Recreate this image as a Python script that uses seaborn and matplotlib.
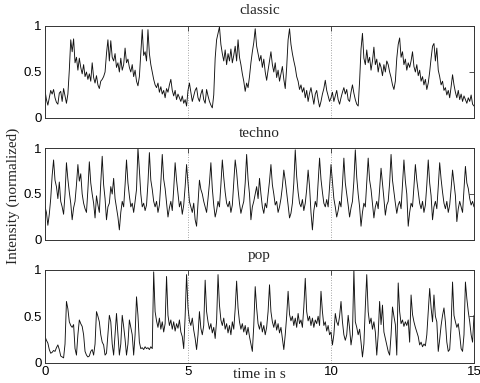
import numpy as np
import pandas as pd
import matplotlib
matplotlib.use("Agg")
import matplotlib.pyplot as plt
import seaborn as sns

# ---- data (normalized intensity sampled every 0.05 s, 0..15 s) ----
time_step = 0.05

classic = [
    0.30, 0.20, 0.14, 0.22, 0.30, 0.26, 0.31, 0.22, 0.17, 0.15, 0.27, 0.29, 0.18, 0.32, 0.24, 0.16, 0.26, 0.52, 0.85, 0.72,
    0.86, 0.60, 0.66, 0.52, 0.65, 0.55, 0.48, 0.58, 0.45, 0.50, 0.42, 0.48, 0.40, 0.60, 0.44, 0.38, 0.46, 0.36, 0.32, 0.40,
    0.42, 0.45, 0.50, 0.70, 0.85, 0.62, 0.84, 0.66, 0.62, 0.70, 0.55, 0.60, 0.50, 0.65, 0.52, 0.58, 0.76, 0.60, 0.64, 0.55,
    0.50, 0.58, 0.45, 0.52, 0.40, 0.35, 0.45, 0.70, 0.96, 0.68, 0.72, 0.62, 0.96, 0.70, 0.58, 0.50, 0.42, 0.36, 0.33, 0.38,
    0.28, 0.34, 0.26, 0.30, 0.22, 0.32, 0.28, 0.36, 0.42, 0.30, 0.24, 0.30, 0.20, 0.26, 0.22, 0.18, 0.24, 0.16, 0.20, 0.13,
    0.30, 0.38, 0.28, 0.18, 0.24, 0.30, 0.33, 0.22, 0.18, 0.26, 0.31, 0.20, 0.16, 0.31, 0.24, 0.18, 0.14, 0.11, 0.25, 0.65,
    0.85, 0.92, 0.99, 0.80, 0.70, 0.62, 0.74, 0.58, 0.70, 0.62, 0.75, 0.60, 0.68, 0.78, 0.62, 0.85, 0.66, 0.58, 0.48, 0.40,
    0.29, 0.38, 0.33, 0.45, 0.60, 0.72, 0.82, 0.97, 0.78, 0.70, 0.62, 0.68, 0.55, 0.64, 0.50, 0.41, 0.52, 0.62, 0.72, 0.58,
    0.50, 0.60, 0.44, 0.52, 0.40, 0.48, 0.56, 0.42, 0.32, 0.55, 0.85, 0.97, 0.80, 0.70, 0.62, 0.55, 0.45, 0.40, 0.31, 0.36,
    0.28, 0.33, 0.22, 0.30, 0.18, 0.27, 0.33, 0.24, 0.15, 0.26, 0.30, 0.20, 0.12, 0.18, 0.26, 0.32, 0.41, 0.30, 0.24, 0.18,
    0.22, 0.28, 0.18, 0.24, 0.30, 0.20, 0.15, 0.22, 0.28, 0.33, 0.26, 0.31, 0.20, 0.18, 0.28, 0.36, 0.27, 0.20, 0.15, 0.13,
    0.40, 0.75, 0.92, 0.65, 0.58, 0.74, 0.60, 0.66, 0.52, 0.62, 0.77, 0.58, 0.64, 0.50, 0.60, 0.55, 0.46, 0.58, 0.50, 0.62,
    0.58, 0.50, 0.44, 0.36, 0.31, 0.40, 0.65, 0.80, 0.87, 0.66, 0.72, 0.58, 0.64, 0.52, 0.60, 0.55, 0.62, 0.72, 0.56, 0.50,
    0.58, 0.46, 0.52, 0.40, 0.45, 0.36, 0.42, 0.31, 0.38, 0.50, 0.65, 0.78, 0.81, 0.62, 0.76, 0.52, 0.45, 0.36, 0.40, 0.30,
    0.33, 0.25, 0.30, 0.22, 0.34, 0.47, 0.36, 0.28, 0.22, 0.30, 0.20, 0.26, 0.18, 0.24, 0.20, 0.16, 0.22, 0.18, 0.25, 0.15,
    0.13,
]

techno = [
    0.36, 0.30, 0.16, 0.28, 0.45, 0.70, 0.87, 0.65, 0.58, 0.45, 0.63, 0.42, 0.36, 0.28, 0.50, 0.84, 0.66, 0.52, 0.40, 0.22,
    0.35, 0.42, 0.60, 0.82, 0.64, 0.72, 0.50, 0.40, 0.34, 0.30, 0.55, 0.85, 0.62, 0.50, 0.40, 0.24, 0.48, 0.38, 0.30, 0.62,
    0.91, 0.60, 0.45, 0.22, 0.36, 0.40, 0.58, 0.50, 0.67, 0.45, 0.35, 0.25, 0.11, 0.30, 0.42, 0.36, 0.60, 0.87, 0.62, 0.48,
    0.36, 0.40, 0.30, 0.42, 0.55, 1.00, 0.76, 0.50, 0.36, 0.40, 0.32, 0.38, 0.62, 0.95, 0.65, 0.55, 0.42, 0.36, 0.42, 0.30,
    0.38, 0.62, 0.93, 0.66, 0.56, 0.40, 0.25, 0.35, 0.42, 0.32, 0.55, 0.84, 0.65, 0.50, 0.36, 0.42, 0.28, 0.38, 0.58, 0.82,
    0.62, 0.42, 0.36, 0.30, 0.40, 0.22, 0.15, 0.40, 0.65, 0.55, 0.50, 0.42, 0.36, 0.30, 0.45, 0.62, 0.84, 0.56, 0.38, 0.25,
    0.32, 0.42, 0.36, 0.60, 0.87, 0.68, 0.52, 0.40, 0.36, 0.42, 0.30, 0.38, 0.62, 0.87, 0.74, 0.55, 0.40, 0.29, 0.36, 0.42,
    0.62, 0.93, 0.66, 0.50, 0.22, 0.36, 0.42, 0.50, 0.58, 0.45, 0.67, 0.50, 0.36, 0.29, 0.40, 0.35, 0.50, 0.64, 0.82, 0.60,
    0.50, 0.38, 0.42, 0.30, 0.36, 0.45, 0.58, 0.76, 0.65, 0.52, 0.38, 0.24, 0.29, 0.40, 0.62, 0.98, 0.69, 0.52, 0.40, 0.36,
    0.44, 0.32, 0.40, 0.55, 0.76, 0.58, 0.30, 0.11, 0.32, 0.42, 0.36, 0.62, 0.89, 0.66, 0.52, 0.40, 0.36, 0.44, 0.36, 0.58,
    0.82, 0.64, 0.45, 0.36, 0.25, 0.32, 0.42, 0.36, 0.60, 0.89, 0.62, 0.50, 0.38, 0.25, 0.35, 0.42, 0.64, 0.98, 0.68, 0.50,
    0.36, 0.15, 0.30, 0.40, 0.36, 0.62, 0.89, 0.65, 0.55, 0.40, 0.24, 0.36, 0.42, 0.34, 0.55, 0.78, 0.62, 0.45, 0.27, 0.38,
    0.42, 0.62, 0.93, 0.65, 0.52, 0.40, 0.29, 0.38, 0.42, 0.34, 0.60, 0.87, 0.64, 0.50, 0.15, 0.30, 0.40, 0.36, 0.58, 0.82,
    0.65, 0.52, 0.40, 0.34, 0.42, 0.30, 0.38, 0.60, 0.87, 0.62, 0.48, 0.22, 0.36, 0.42, 0.34, 0.58, 0.84, 0.66, 0.52, 0.40,
    0.34, 0.42, 0.30, 0.38, 0.56, 0.76, 0.62, 0.48, 0.20, 0.34, 0.42, 0.36, 0.30, 0.55, 0.80, 0.62, 0.56, 0.45, 0.38, 0.42,
    0.36,
]

pop = [
    0.28, 0.24, 0.21, 0.14, 0.10, 0.11, 0.13, 0.12, 0.16, 0.19, 0.14, 0.07, 0.06, 0.05, 0.20, 0.66, 0.58, 0.44, 0.40, 0.38,
    0.41, 0.15, 0.08, 0.30, 0.46, 0.42, 0.39, 0.30, 0.12, 0.08, 0.06, 0.07, 0.12, 0.14, 0.08, 0.20, 0.55, 0.50, 0.44, 0.30,
    0.22, 0.19, 0.08, 0.10, 0.30, 0.51, 0.44, 0.20, 0.08, 0.30, 0.53, 0.30, 0.08, 0.20, 0.51, 0.39, 0.25, 0.08, 0.20, 0.46,
    0.38, 0.30, 0.08, 0.30, 0.71, 0.51, 0.22, 0.15, 0.16, 0.14, 0.17, 0.15, 0.16, 0.14, 0.17, 0.15, 0.98, 0.55, 0.45, 0.38,
    0.48, 0.36, 0.44, 0.33, 0.42, 0.93, 0.51, 0.40, 0.46, 0.36, 0.44, 0.34, 0.42, 0.37, 0.46, 0.33, 0.28, 0.15, 0.50, 0.95,
    0.59, 0.45, 0.40, 0.48, 0.35, 0.26, 0.14, 0.30, 0.55, 0.37, 0.30, 0.40, 0.89, 0.55, 0.44, 0.36, 0.42, 0.32, 0.38, 0.26,
    0.45, 0.95, 0.62, 0.46, 0.40, 0.48, 0.36, 0.42, 0.32, 0.40, 0.30, 0.44, 0.36, 0.58, 0.88, 0.59, 0.44, 0.36, 0.42, 0.33,
    0.40, 0.30, 0.38, 0.28, 0.20, 0.12, 0.40, 0.82, 0.59, 0.42, 0.36, 0.44, 0.33, 0.40, 0.30, 0.38, 0.55, 0.84, 0.55, 0.44,
    0.38, 0.46, 0.35, 0.42, 0.32, 0.38, 0.26, 0.14, 0.30, 0.50, 0.77, 0.52, 0.45, 0.50, 0.40, 0.48, 0.38, 0.53, 0.42, 0.46,
    0.38, 0.60, 0.91, 0.55, 0.45, 0.50, 0.40, 0.48, 0.38, 0.46, 0.42, 0.50, 0.40, 0.77, 0.55, 0.40, 0.44, 0.34, 0.40, 0.30,
    0.33, 0.19, 0.30, 0.53, 0.44, 0.40, 0.50, 0.66, 0.44, 0.30, 0.24, 0.30, 0.51, 0.37, 0.19, 0.30, 1.00, 0.44, 0.38, 0.30,
    0.36, 0.22, 0.06, 0.20, 0.60, 0.95, 0.55, 0.42, 0.48, 0.36, 0.44, 0.33, 0.08, 0.30, 0.66, 0.41, 0.62, 0.33, 0.26, 0.19,
    0.12, 0.08, 0.30, 0.60, 0.50, 0.41, 0.08, 0.86, 0.55, 0.42, 0.46, 0.39, 0.44, 0.40, 0.46, 0.22, 0.73, 0.52, 0.44, 0.38,
    0.33, 0.28, 0.19, 0.22, 0.17, 0.20, 0.18, 0.30, 0.55, 0.80, 0.59, 0.44, 0.73, 0.50, 0.44, 0.12, 0.25, 0.40, 0.51, 0.59,
    0.44, 0.22, 0.12, 0.14, 0.40, 0.87, 0.51, 0.44, 0.38, 0.42, 0.30, 0.15, 0.12, 0.30, 0.87, 0.69, 0.55, 0.44, 0.30, 0.22,
    0.51,
]

titles = ["classic", "techno", "pop"]
series = [classic, techno, pop]
x_ticks = [0, 5, 10, 15]
y_ticks = [0, 0.5, 1]
y_tick_labels = ["0", "0.5", "1"]

# ---- style ----
sns.set_style("white")
serif = ["Liberation Serif", "DejaVu Serif"]
sans = ["Liberation Sans", "DejaVu Sans"]
plt.rcParams["font.family"] = sans

W, H = 481, 383
fig = plt.figure(figsize=(W / 100, H / 100), dpi=100)

left = 45 / W
width = 429 / W
panels = [(26, 118), (148, 240), (270, 362.5)]

for k, (name, vals) in enumerate(zip(titles, series)):
    top_px, bot_px = panels[k]
    ax = fig.add_axes([left, 1 - bot_px / H, width, (bot_px - top_px) / H])
    n = len(vals)
    df = pd.DataFrame({"t": np.arange(n) * time_step, "v": vals})
    sns.lineplot(data=df, x="t", y="v", ax=ax, color="#111111", linewidth=0.65,
                 estimator=None, sort=False)
    ax.set_xlim(0, 15)
    ax.set_ylim(0, 1)
    ax.set_xticks(x_ticks)
    ax.set_yticks(y_ticks)
    ax.set_yticklabels(y_tick_labels)
    ax.set_xlabel("")
    ax.set_ylabel("")
    ax.xaxis.grid(True, linestyle=(0, (1, 2)), color="#888888", linewidth=0.6)
    ax.yaxis.grid(False)
    ax.tick_params(direction="in", length=3.5, width=0.6, color="#333333",
                   top=True, right=True, labelsize=9.5, pad=2.5, labelcolor="black")
    if k < 2:
        ax.tick_params(labelbottom=False)
    for sp in ax.spines.values():
        sp.set_visible(True)
        sp.set_color("#333333")
        sp.set_linewidth(0.7)
    fig.text((45 + 214.5) / W, 1 - (top_px - 15) / H, name, ha="center", va="center",
             family=serif, fontsize=11)

fig.text(259.5 / W, 1 - 374 / H, "time in s", ha="center", va="center",
         family=serif, fontsize=11)
fig.text(13 / W, 1 - 196 / H, "Intensity (normalized)", ha="center", va="center",
         rotation=90, family=serif, fontsize=11)

fig.savefig("out.png", dpi=100, facecolor="white")
